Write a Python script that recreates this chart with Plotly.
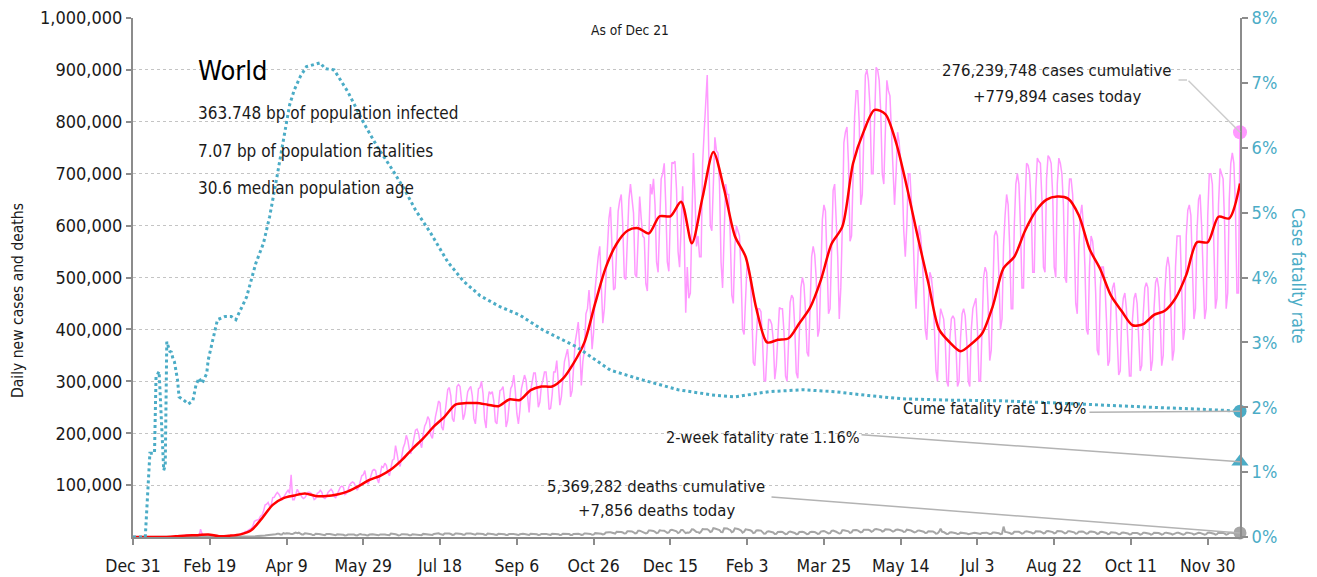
import pandas as pd
import plotly.graph_objects as go

START = "2019-12-31"
END = "2021-12-21"

# Daily new cases, thousands (Tue..Mon per row), Dec 31 2019 -> Dec 21 2021
cases_daily_k = [
    0, 0, 0, 0, 0, 0, 0,
    0, 0, 0, 0, 0, 0, 0,
    0, 0, 0, 0, 0, 0, 0.1,
    0.15, 0.26, 0.26, 0.47, 0.68, 0.8, 1.0,
    2.6, 0.6, 2.1, 2.1, 2.6, 2.8, 3.2,
    3.9, 3.7, 3.2, 3.4, 2.7, 3.0, 2.5,
    2.0, 0.5, 15.1, 6.5, 2.1, 2.1, 1.9,
    1.9, 0.5, 0.6, 1.0, 1.0, 0.4, 0.6,
    0.9, 0.9, 1.2, 1.4, 1.8, 2.0, 1.9,
    2.5, 2.4, 2.8, 4.0, 4.0, 3.8, 4.0,
    4.6, 7.1, 7.6, 10.5, 10.5, 13.0, 14.6,
    16.6, 20.5, 29.7, 31.8, 32.7, 34.0, 40.1,
    42.0, 49.5, 61.5, 63.2, 66.5, 59.0, 62.0,
    76, 76.5, 82, 86, 82.5, 77, 71,
    76, 82, 86, 90, 84, 120, 72,
    72, 82, 92, 86, 84, 77, 74,
    76, 82, 86, 86, 84, 80, 72,
    74, 84, 86, 90, 86, 76, 74,
    78, 86, 90, 92, 88, 78, 76,
    82, 90, 96, 98, 96, 82, 84,
    90, 100, 104, 106, 104, 96, 90,
    96, 106, 118, 120, 128, 110, 102,
    108, 118, 128, 130, 128, 112, 104,
    120, 136, 134, 142, 138, 124, 118,
    132, 148, 150, 176, 160, 142, 136,
    158, 172, 180, 196, 186, 168, 160,
    176, 196, 206, 208, 200, 182, 172,
    198, 214, 220, 232, 226, 196, 190,
    214, 232, 246, 262, 258, 212, 206,
    236, 262, 284, 288, 272, 228, 222,
    252, 290, 294, 290, 262, 226, 236,
    262, 280, 286, 290, 272, 228, 218,
    262, 286, 288, 300, 276, 226, 210,
    260, 280, 276, 280, 262, 222, 218,
    252, 282, 284, 290, 264, 212, 224,
    262, 286, 292, 312, 282, 238, 218,
    244, 286, 300, 312, 302, 264, 240,
    282, 304, 316, 316, 290, 250, 260,
    292, 302, 318, 318, 290, 246, 248,
    274, 318, 318, 340, 302, 254, 270,
    300, 338, 350, 362, 336, 270, 282,
    326, 376, 394, 414, 364, 292, 338,
    360, 430, 440, 476, 432, 362, 394,
    478, 512, 540, 560, 500, 412, 440,
    500, 572, 614, 636, 560, 476, 480,
    562, 628, 648, 660, 600, 500, 496,
    584, 650, 680, 654, 624, 506, 500,
    576, 656, 614, 580, 576, 488, 474,
    560, 680, 660, 690, 640, 530, 510,
    610, 690, 700, 720, 640, 530, 512,
    636, 722, 720, 724, 670, 550, 520,
    600, 676, 580, 432, 520, 460, 470,
    620, 740, 660, 560, 580, 540, 540,
    720, 780, 830, 890, 740, 600, 590,
    700, 770, 744, 740, 680, 530, 480,
    610, 680, 660, 660, 580, 466, 450,
    560, 600, 590, 580, 510, 400, 390,
    480, 530, 514, 500, 440, 336, 330,
    400, 440, 440, 434, 380, 302, 300,
    360, 420, 418, 410, 380, 304, 330,
    380, 442, 440, 440, 394, 310, 300,
    390, 452, 466, 460, 404, 316, 306,
    420, 480, 500, 486, 434, 356, 348,
    470, 540, 560, 544, 498, 386, 400,
    520, 612, 640, 628, 534, 430, 440,
    560, 668, 680, 620, 540, 420, 480,
    600, 760, 780, 790, 720, 570, 580,
    730, 810, 860, 860, 800, 640, 660,
    790, 890, 900, 880, 830, 700, 700,
    800, 905, 900, 880, 820, 700, 680,
    780, 880, 860, 850, 780, 690, 640,
    700, 780, 760, 730, 690, 590, 540,
    600, 700, 700, 640, 590, 500, 440,
    520, 600, 580, 540, 480, 400, 380,
    440, 510, 500, 470, 400, 320, 300,
    400, 440, 430, 420, 380, 300, 290,
    380, 420, 426, 420, 370, 290, 300,
    384, 430, 440, 426, 380, 300, 290,
    400, 440, 450, 460, 400, 300, 300,
    420, 500, 520, 510, 440, 340, 360,
    500, 580, 590, 580, 500, 400, 420,
    560, 620, 660, 640, 560, 440, 440,
    600, 680, 700, 680, 600, 480, 480,
    640, 720, 716, 700, 640, 510, 510,
    670, 730, 724, 720, 650, 520, 510,
    690, 735, 730, 720, 660, 520, 500,
    680, 730, 720, 700, 640, 500, 490,
    640, 690, 690, 660, 580, 450, 430,
    560, 620, 640, 600, 520, 400, 390,
    520, 580, 570, 540, 470, 360, 350,
    480, 520, 520, 490, 420, 330, 340,
    450, 480, 490, 460, 400, 312, 320,
    430, 460, 470, 440, 380, 310, 310,
    420, 460, 470, 450, 380, 320, 330,
    430, 480, 490, 480, 400, 320, 340,
    440, 490, 500, 480, 420, 330, 350,
    470, 520, 540, 520, 440, 340, 360,
    520, 580, 580, 580, 480, 380, 400,
    580, 630, 640, 620, 520, 420, 440,
    590, 650, 660, 600, 510, 420, 440,
    620, 700, 700, 680, 580, 440, 460,
    640, 710, 700, 690, 600, 440, 470,
    650, 720, 740, 720, 640, 470, 470,
    779.894,
]

# Daily new deaths, thousands
deaths_daily_k = [
    0, 0, 0, 0, 0, 0, 0,
    0, 0, 0, 0, 0, 0, 0,
    0, 0, 0, 0, 0, 0, 0,
    0, 0, 0, 0, 0, 0, 0,
    0, 0, 0, 0, 0, 0.1, 0.1,
    0.1, 0.1, 0.1, 0.1, 0.1, 0.1, 0.1,
    0.1, 0.1, 0.3, 0.1, 0.1, 0.1, 0.1,
    0.1, 0.1, 0.1, 0.1, 0.1, 0.1, 0.2,
    0.1, 0.1, 0.1, 0.1, 0.1, 0.1, 0.1,
    0.1, 0.1, 0.1, 0.1, 0.1, 0.1, 0.2,
    0.3, 0.3, 0.4, 0.4, 0.4, 0.4, 0.7,
    0.8, 0.9, 1.1, 1.3, 1.7, 1.7, 1.8,
    2.4, 2.7, 2.7, 3.3, 3.5, 3.3, 3.6,
    4.6, 4.8, 5.2, 6.1, 6.3, 5.0, 4.7,
    7.6, 6.4, 7.3, 7.4, 6.6, 5.6, 5.6,
    7.3, 8.5, 7.5, 8.3, 6.6, 4.9, 5.0,
    7.2, 6.8, 6.5, 6.0, 5.4, 3.8, 3.9,
    6.2, 6.5, 5.8, 5.4, 4.9, 3.6, 3.6,
    5.8, 6.2, 5.7, 5.3, 4.6, 3.6, 3.3,
    5.4, 5.4, 5.1, 5.2, 4.3, 2.9, 3.1,
    4.8, 5.0, 5.0, 5.0, 4.6, 3.2, 3.0,
    4.6, 5.6, 5.0, 5.0, 4.5, 3.2, 3.1,
    4.8, 5.5, 5.4, 5.0, 4.5, 3.2, 3.3,
    4.9, 5.1, 5.2, 5.0, 4.2, 3.3, 3.4,
    6.6, 5.6, 5.2, 5.1, 4.3, 3.1, 3.6,
    5.3, 5.2, 5.4, 4.9, 4.6, 3.3, 3.3,
    5.4, 5.2, 5.5, 5.0, 4.5, 3.5, 3.6,
    6.0, 5.6, 5.8, 5.6, 4.6, 3.9, 4.0,
    6.0, 6.4, 6.3, 7.0, 5.7, 4.2, 4.1,
    6.7, 7.0, 6.8, 6.6, 5.7, 4.1, 4.3,
    6.6, 6.8, 6.7, 6.6, 5.8, 4.4, 4.3,
    6.8, 7.4, 6.8, 6.6, 5.5, 4.5, 4.4,
    6.8, 6.8, 6.7, 6.5, 5.6, 4.3, 4.0,
    6.6, 6.4, 6.2, 6.2, 5.4, 4.2, 4.1,
    6.4, 6.3, 6.1, 6.2, 5.2, 4.0, 4.0,
    6.0, 6.2, 6.2, 5.9, 5.1, 4.2, 3.8,
    5.2, 6.0, 6.1, 5.8, 5.2, 4.0, 4.0,
    6.4, 6.3, 6.2, 6.1, 5.1, 4.0, 4.1,
    6.0, 6.3, 6.1, 6.0, 5.3, 4.0, 4.1,
    6.1, 6.0, 6.1, 6.1, 5.5, 3.9, 4.2,
    6.2, 6.1, 6.0, 6.1, 5.6, 3.9, 4.0,
    6.0, 6.3, 6.3, 6.4, 5.5, 4.1, 4.4,
    6.6, 6.7, 6.5, 6.6, 5.9, 4.3, 4.6,
    7.4, 7.3, 7.2, 7.5, 6.3, 5.0, 5.8,
    8.6, 9.3, 9.2, 9.0, 8.2, 6.3, 6.6,
    10.0, 10.2, 10.0, 9.6, 8.7, 6.6, 6.9,
    11.0, 11.0, 11.0, 10.7, 9.1, 6.9, 7.6,
    12.0, 12.2, 10.6, 10.0, 9.0, 7.1, 8.0,
    12.5, 12.5, 12.6, 11.7, 10.0, 7.5, 8.2,
    12.8, 12.4, 12.7, 11.9, 10.2, 7.9, 8.7,
    13.1, 13.8, 13.3, 12.4, 11.0, 7.6, 9.1,
    13.6, 13.6, 10.4, 7.4, 8.6, 8.4, 9.9,
    14.8, 14.5, 12.4, 9.6, 9.4, 7.8, 10.6,
    15.3, 15.1, 15.6, 14.9, 13.1, 9.6, 10.7,
    17.0, 16.4, 15.7, 15.0, 13.5, 9.6, 9.3,
    16.8, 17.1, 16.4, 14.8, 13.6, 9.2, 10.6,
    16.8, 16.5, 15.5, 14.2, 12.5, 8.5, 10.1,
    14.9, 14.4, 13.9, 13.0, 11.4, 7.6, 8.4,
    12.6, 13.0, 12.2, 12.3, 9.4, 6.5, 6.8,
    10.5, 11.0, 10.5, 10.1, 8.7, 5.9, 6.1,
    9.8, 10.3, 10.2, 9.6, 8.0, 5.5, 6.0,
    9.6, 10.3, 9.7, 9.4, 7.7, 5.5, 5.9,
    9.5, 10.4, 10.2, 9.2, 7.6, 5.5, 6.2,
    9.5, 10.2, 10.2, 9.5, 8.1, 6.0, 6.6,
    10.3, 11.2, 11.6, 10.5, 8.9, 6.8, 7.4,
    11.7, 12.5, 11.7, 10.1, 8.4, 6.7, 7.5,
    13.0, 13.0, 12.7, 12.3, 10.9, 8.0, 8.8,
    13.0, 13.7, 13.6, 12.8, 11.5, 9.0, 9.9,
    14.2, 14.2, 14.4, 14.0, 12.7, 10.0, 11.5,
    14.8, 15.3, 14.9, 14.3, 13.3, 10.5, 11.5,
    14.8, 15.1, 14.4, 14.1, 12.8, 10.5, 11.8,
    14.2, 14.4, 13.8, 13.3, 12.1, 9.6, 10.4,
    14.1, 14.0, 13.2, 12.0, 10.9, 9.0, 9.8,
    12.3, 12.5, 12.1, 11.4, 10.1, 7.8, 8.3,
    10.9, 11.1, 10.6, 10.8, 9.0, 6.5, 7.0,
    10.2, 16.0, 10.0, 9.5, 8.0, 6.0, 6.3,
    8.7, 9.0, 8.7, 8.8, 7.3, 5.7, 6.0,
    8.4, 8.3, 8.1, 7.9, 6.9, 5.3, 6.0,
    8.0, 8.3, 8.1, 7.7, 6.6, 5.5, 5.9,
    7.8, 8.4, 8.5, 8.3, 7.0, 5.7, 6.2,
    8.5, 8.5, 8.4, 8.3, 7.1, 5.6, 6.5,
    20.0, 9.8, 9.4, 9.0, 7.8, 6.0, 6.7,
    10.0, 10.2, 10.3, 9.9, 8.4, 6.5, 7.3,
    10.4, 10.8, 10.6, 10.3, 8.8, 6.9, 7.6,
    10.8, 11.1, 10.8, 10.5, 9.1, 7.0, 7.7,
    11.3, 11.7, 11.2, 10.9, 9.4, 7.0, 7.8,
    11.5, 11.8, 11.0, 10.7, 9.3, 7.1, 7.9,
    11.3, 11.2, 10.9, 10.3, 9.0, 6.4, 7.0,
    10.3, 10.8, 10.6, 10.2, 8.8, 6.3, 7.2,
    10.2, 10.5, 10.3, 9.8, 8.3, 6.0, 6.7,
    9.7, 9.9, 9.4, 8.9, 7.7, 5.6, 6.3,
    9.0, 9.2, 8.9, 8.4, 7.1, 5.2, 5.8,
    8.3, 8.8, 8.3, 8.0, 6.8, 4.9, 5.4,
    7.9, 8.2, 7.9, 7.7, 6.4, 4.6, 5.4,
    8.1, 8.1, 7.9, 7.5, 6.3, 4.6, 5.5,
    8.0, 8.2, 7.9, 7.6, 6.3, 4.5, 5.5,
    8.0, 8.3, 8.1, 7.6, 6.4, 4.5, 5.6,
    8.2, 8.3, 8.2, 7.5, 6.5, 4.6, 5.5,
    8.2, 8.4, 8.0, 7.8, 6.6, 4.6, 5.7,
    8.0, 8.2, 7.9, 7.0, 6.2, 4.6, 5.4,
    8.3, 8.6, 8.3, 7.8, 6.4, 4.6, 5.5,
    8.4, 8.7, 8.4, 7.9, 6.6, 4.7, 5.6,
    8.0, 8.3, 8.3, 7.7, 6.5, 4.6, 5.6,
    7.856,
]

# 7-day average of new cases, thousands, sampled weekly from Dec 31 2019
cases_avg_k = [
    0, 0, 0, 0.1, 1.5, 3, 3.5, 5, 1.5, 2.5,
    5, 13, 36, 62, 75, 80, 84, 79, 79, 82,
    88, 98, 110, 118, 130, 148, 170, 190, 213, 232,
    255, 258, 258, 255, 252, 265, 264, 283, 290, 290,
    305, 335, 375, 450, 520, 565, 590, 595, 585, 618,
    618, 646, 566, 655, 742, 670, 580, 540, 440, 375,
    380, 383, 412, 442, 495, 565, 598, 720, 782, 823,
    815, 760, 675, 580, 490, 400, 375, 358, 372, 392,
    445, 518, 540, 590, 628, 650, 656, 652, 620, 555,
    516, 465, 435, 408, 410, 428, 436, 460, 505, 568,
    568, 617, 614, 681,
]

# Cumulative case fatality rate (%)
cfr_dates = [
    "2019-12-31", "2020-01-08", "2020-01-11", "2020-01-14", "2020-01-15", "2020-01-17",
    "2020-01-19", "2020-01-20", "2020-01-21", "2020-01-22", "2020-01-24", "2020-01-25",
    "2020-01-26", "2020-01-27", "2020-01-29", "2020-01-30", "2020-02-02", "2020-02-05",
    "2020-02-08", "2020-02-10", "2020-02-12", "2020-02-14", "2020-02-17", "2020-02-18",
    "2020-02-21", "2020-02-24", "2020-02-29", "2020-03-04", "2020-03-07", "2020-03-11",
    "2020-03-14", "2020-03-17", "2020-03-20", "2020-03-25", "2020-03-29", "2020-04-02",
    "2020-04-06", "2020-04-09", "2020-04-11", "2020-04-14", "2020-04-18", "2020-04-22",
    "2020-04-29", "2020-05-01", "2020-05-04", "2020-05-10", "2020-05-19", "2020-05-30",
    "2020-06-07", "2020-06-17", "2020-06-25", "2020-07-02", "2020-07-12", "2020-07-23",
    "2020-08-02", "2020-08-13", "2020-08-26", "2020-09-08", "2020-09-23", "2020-10-15",
    "2020-11-06", "2020-11-27", "2020-12-20", "2021-01-11", "2021-01-26", "2021-02-17",
    "2021-03-11", "2021-04-01", "2021-04-23", "2021-05-15", "2021-06-15", "2021-07-18",
    "2021-08-19", "2021-09-21", "2021-10-24", "2021-11-25", "2021-12-21",
]
cfr_pct = [
    0, 0, 1.29, 1.29, 2.47, 2.55,
    1.55, 1.03, 1.10, 3.01, 2.86, 2.85,
    2.75, 2.70, 2.42, 2.16, 2.11, 2.05,
    2.10, 2.34, 2.45, 2.37, 2.52, 2.73,
    3.04, 3.35, 3.40, 3.40, 3.35, 3.55,
    3.70, 3.96, 4.22, 4.53, 4.94, 5.45,
    5.97, 6.38, 6.66, 6.89, 7.10, 7.25,
    7.30, 7.31, 7.22, 7.20, 6.86, 6.35,
    6.02, 5.66, 5.35, 5.04, 4.68, 4.24,
    3.95, 3.72, 3.55, 3.42, 3.19, 2.93,
    2.57, 2.42, 2.27, 2.19, 2.16, 2.24,
    2.27, 2.24, 2.18, 2.13, 2.11, 2.10,
    2.07, 2.03, 2.00, 1.97, 1.94,
]

cases_today = 779894
deaths_today = 7856
cfr_cume_today = 1.94
cfr_2wk_today = 1.16

xtick_dates = ["2019-12-31", "2020-02-19", "2020-04-09", "2020-05-29", "2020-07-18",
               "2020-09-06", "2020-10-26", "2020-12-15", "2021-02-03", "2021-03-25",
               "2021-05-14", "2021-07-03", "2021-08-22", "2021-10-11", "2021-11-30"]
xtick_text = ["Dec 31", "Feb 19", "Apr 9", "May 29", "Jul 18", "Sep 6", "Oct 26",
              "Dec 15", "Feb 3", "Mar 25", "May 14", "Jul 3", "Aug 22", "Oct 11", "Nov 30"]
ytick_vals = [100000 * i for i in range(1, 11)]
y2tick_vals = list(range(0, 9))
y2tick_text = [f"{v}%" for v in y2tick_vals]

FONT = "DejaVu Sans Condensed, DejaVu Sans, sans-serif"
PINK = "#ff99ff"
RED = "#ff0000"
BLUE = "#4bacc6"
GRAY = "#a6a6a6"
AXIS = "#8c8c8c"
INK = "#1a1a1a"

# plot area as seen on screen (page body adds an 8px offset)
L, R, T, B = 133, 1240, 18, 537
OFF = 8


def px(x):
    return (x - L) / (R - L)


def py(y):
    return (B - y) / (B - T)


dates = pd.date_range(START, periods=len(cases_daily_k), freq="D")
avg_dates = pd.date_range(START, periods=len(cases_avg_k), freq="7D")
last = dates[-1]

fig = go.Figure()
fig.add_trace(go.Scatter(x=dates, y=[v * 1000 for v in cases_daily_k], mode="lines",
                         line=dict(color=PINK, width=1.5)))
fig.add_trace(go.Scatter(x=dates, y=[v * 1000 for v in deaths_daily_k], mode="lines",
                         line=dict(color=GRAY, width=2)))
fig.add_trace(go.Scatter(x=avg_dates, y=[v * 1000 for v in cases_avg_k], mode="lines",
                         line=dict(color=RED, width=2.5, shape="spline", smoothing=0.8)))
fig.add_trace(go.Scatter(x=cfr_dates, y=cfr_pct, mode="lines", yaxis="y2",
                         line=dict(color=BLUE, width=3, dash="dot")))

fig.add_trace(go.Scatter(x=[last], y=[cases_today], mode="markers", cliponaxis=False,
                         marker=dict(color=PINK, size=14)))
fig.add_trace(go.Scatter(x=[last], y=[deaths_today], mode="markers", cliponaxis=False,
                         marker=dict(color=GRAY, size=13)))
fig.add_trace(go.Scatter(x=[last], y=[cfr_cume_today], mode="markers", yaxis="y2", cliponaxis=False,
                         marker=dict(color=BLUE, size=13)))
fig.add_trace(go.Scatter(x=[last], y=[cfr_2wk_today], mode="markers", yaxis="y2", cliponaxis=False,
                         marker=dict(color=BLUE, size=15, symbol="triangle-up")))

ann = []


def text(x, y, t, size=17, xanchor="center", color=INK):
    ann.append(dict(xref="paper", yref="paper", x=px(x), y=py(y), text=t, showarrow=False,
                    xanchor=xanchor, yanchor="middle", font=dict(size=size, color=color, family=FONT)))


def leader(xv, yv, yref, ax, ay, color="#b3b3b3"):
    ann.append(dict(x=xv, y=yv, xref="x", yref=yref, text="", showarrow=True, arrowhead=0,
                    arrowwidth=1.5, arrowcolor=color, ax=ax, ay=ay, axref="pixel", ayref="pixel",
                    standoff=0, startstandoff=0))


text(630, 30, "As of Dec 21", size=13.7)
text(196, 70, "World", size=27, xanchor="left", color="#000000")
text(196, 113, "363.748 bp of population infected", size=17, xanchor="left")
text(196, 151, "7.07 bp of population fatalities", size=17, xanchor="left")
text(196, 188, "30.6 median population age", size=17, xanchor="left")
text(1057, 70, "276,239,748 cases cumulative", size=16.6)
text(1057, 96, "+779,894 cases today", size=16.6)
text(995, 408, "Cume fatality rate 1.94%", size=16.2)
text(763, 437, "2-week fatality rate 1.16%", size=16.2)
text(656, 486, "5,369,282 deaths cumulative", size=16.5)
text(656, 510, "+7,856 deaths today", size=16.5)

leader(last, cases_today, "y", -53, -53, color="#cccccc")
ann.append(dict(xref="paper", yref="paper", x=px(1187), y=py(80), text="", showarrow=True,
                arrowhead=0, arrowwidth=1.5, arrowcolor="#cccccc", ax=-10, ay=0,
                axref="pixel", ayref="pixel", standoff=0, startstandoff=0))
leader(last, cfr_cume_today, "y2", -152, 1)
leader(last, cfr_2wk_today, "y2", -380, -27)
leader(last, deaths_today, "y", -470, -36)

ann.append(dict(xref="paper", yref="paper", x=px(18), y=py(301), text="Daily new cases and deaths",
                textangle=-90, showarrow=False, xanchor="center", yanchor="middle",
                font=dict(size=15.5, color=INK, family=FONT)))
ann.append(dict(xref="paper", yref="paper", x=px(1298), y=py(276), text="Case fatality rate",
                textangle=90, showarrow=False, xanchor="center", yanchor="middle",
                font=dict(size=17.5, color=BLUE, family=FONT)))

fig.update_layout(
    width=1317, height=577,
    margin=dict(l=L - OFF, r=1317 - R + OFF, t=T - OFF, b=577 - B + OFF, autoexpand=False),
    plot_bgcolor="white", paper_bgcolor="white",
    showlegend=False,
    font=dict(family=FONT, size=17, color=INK),
    annotations=ann,
    xaxis=dict(type="date", range=[START, END], tickmode="array", tickvals=xtick_dates,
               ticktext=xtick_text, ticks="outside", ticklen=6, tickwidth=1.5, tickcolor=AXIS,
               showline=True, linecolor=AXIS, linewidth=2, showgrid=False, zeroline=False,
               tickfont=dict(size=17.5, color=INK), ticklabelstandoff=6, automargin=False),
    yaxis=dict(range=[0, 1000000], tickmode="array", tickvals=ytick_vals, tickformat=",",
               ticks="outside", ticklen=5, tickwidth=1.5, tickcolor=AXIS, showline=True,
               linecolor=AXIS, linewidth=2, showgrid=True, gridcolor="#c4c4c4", griddash="dot",
               gridwidth=1, zeroline=False, tickfont=dict(size=18, color=INK), automargin=False,
               ticklabeloverflow="allow"),
    yaxis2=dict(overlaying="y", side="right", range=[0, 8], tickmode="array",
                tickvals=y2tick_vals, ticktext=y2tick_text, ticks="outside", ticklen=6,
                tickwidth=1.5, tickcolor=AXIS, showline=True, linecolor=AXIS, linewidth=2,
                showgrid=False, zeroline=False, tickfont=dict(size=18, color=BLUE),
                automargin=False, ticklabeloverflow="allow"),
)

fig.write_html("out.html")
